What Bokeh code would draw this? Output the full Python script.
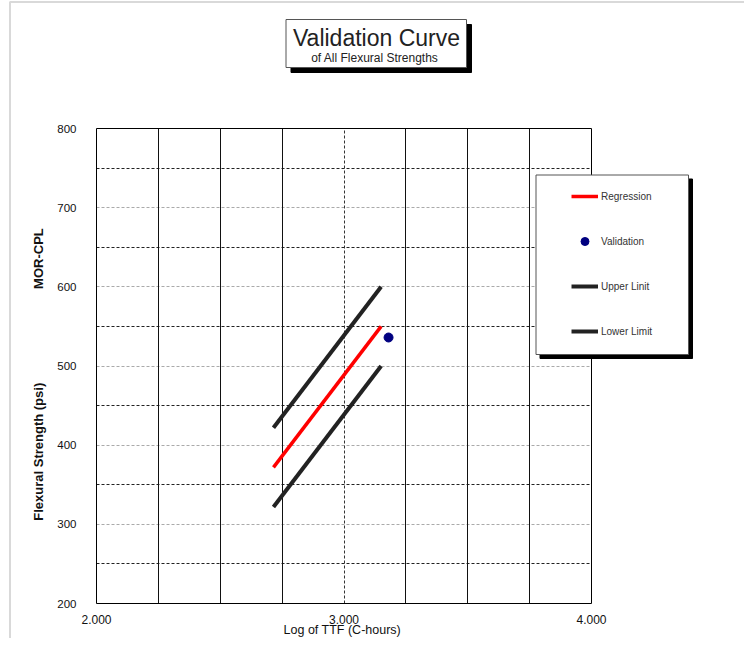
from bokeh.plotting import figure
from bokeh.models import (Range1d, FixedTicker, NumeralTickFormatter, Grid,
                          BoxAnnotation, Label, Legend, LegendItem)
from bokeh.embed import file_html
from bokeh.resources import INLINE

# ---- data ----
ttf_log = [2.715, 3.15]
regression = [372, 550]
upper_limit = [422, 600]
lower_limit = [322, 500]
val_x = [3.18]
val_y = [536]
x_ticks = [2.0, 3.0, 4.0]
y_ticks = [200, 300, 400, 500, 600, 700, 800]
x_grid_solid = [2.25, 2.5, 2.75, 3.25, 3.5, 3.75]
x_grid_dash = [3.0]
y_grid_major = [300, 400, 500, 600, 700]
y_grid_minor = [250, 350, 450, 550, 650, 750]
X_MIN, X_MAX = 2.0, 4.0
Y_MIN, Y_MAX = 200, 800

FONT = "Liberation Sans"
W, H = 744, 638
# pixel placement of the plotting area inside the canvas
PL, PR, PT, PB = 96, 591, 128, 603
YLABEL_CENTER_PX = 374

sx = (X_MAX - X_MIN) / (PR - PL)
sy = (Y_MAX - Y_MIN) / (PB - PT)
x_range = Range1d(X_MIN - PL * sx, X_MAX + (W - PR) * sx)
y_range = Range1d(Y_MIN - (H - PB) * sy, Y_MAX + PT * sy)

p = figure(width=W, height=H, output_backend="svg", toolbar_location=None,
           x_range=x_range, y_range=y_range, min_border=0)
p.background_fill_color = "white"
p.border_fill_color = "white"
p.outline_line_color = None
p.xgrid.visible = False
p.ygrid.visible = False

# axes drawn at the edges of the plotting area
p.xaxis.fixed_location = Y_MIN
p.yaxis.fixed_location = X_MIN
p.xaxis.bounds = (X_MIN, X_MAX)
label_center_val = Y_MAX - (YLABEL_CENTER_PX - PT) * sy
p.yaxis.bounds = (2 * label_center_val - Y_MAX, Y_MAX)
p.xaxis.ticker = FixedTicker(ticks=x_ticks)
p.xaxis.formatter = NumeralTickFormatter(format="0.000")
p.yaxis.ticker = FixedTicker(ticks=y_ticks)
for ax in (p.xaxis, p.yaxis):
    ax.axis_line_color = None
    ax.major_tick_line_color = None
    ax.minor_tick_line_color = None
    ax.major_label_text_font = FONT
    ax.major_label_text_color = "#111111"
p.xaxis.major_label_text_font_size = "12px"
p.yaxis.major_label_text_font_size = "11.5px"
p.xaxis.major_label_standoff = 5
p.yaxis.major_label_standoff = 14
p.yaxis.axis_label = "Flexural Strength (psi)" + "\u00a0" * 26 + "MOR-CPL"
p.yaxis.axis_label_text_font = FONT
p.yaxis.axis_label_text_font_style = "bold"
p.yaxis.axis_label_text_font_size = "13px"
p.yaxis.axis_label_text_color = "#111111"
p.yaxis.axis_label_standoff = 8

# grid lines, limited to the plotting area
HAS_CB = "cross_bounds" in Grid.properties()


def add_grid(dim, ticks, color, dash):
    if HAS_CB:
        g = Grid(dimension=dim, ticker=FixedTicker(ticks=ticks),
                 bounds=(X_MIN, X_MAX) if dim == 0 else (Y_MIN, Y_MAX),
                 cross_bounds=(Y_MIN, Y_MAX) if dim == 0 else (X_MIN, X_MAX),
                 grid_line_color=color, grid_line_dash=dash, grid_line_width=1)
        p.add_layout(g)
    else:
        if dim == 0:
            p.segment(x0=ticks, x1=ticks, y0=[Y_MIN] * len(ticks), y1=[Y_MAX] * len(ticks),
                      line_color=color, line_dash=dash, line_width=1)
        else:
            p.segment(y0=ticks, y1=ticks, x0=[X_MIN] * len(ticks), x1=[X_MAX] * len(ticks),
                      line_color=color, line_dash=dash, line_width=1)


add_grid(1, y_grid_major, "#aaaaaa", "3 2")
add_grid(1, y_grid_minor, "#222222", "3 2")
add_grid(0, x_grid_solid, "#111111", "solid")
add_grid(0, x_grid_dash, "#333333", "3 2")

# data
r_up = p.line(ttf_log, upper_limit, line_color="#222222", line_width=4)
r_lo = p.line(ttf_log, lower_limit, line_color="#222222", line_width=4)
r_reg = p.line(ttf_log, regression, line_color="#ff0000", line_width=3.5)
r_val = p.scatter(val_x, val_y, size=9, color="#000080")

# frame of the plotting area
p.add_layout(BoxAnnotation(left=X_MIN, right=X_MAX, bottom=Y_MIN, top=Y_MAX,
                           fill_alpha=0, line_color="black", line_width=1, line_alpha=1))


def sbox(left, right, top, bottom, **kw):
    # left/right/top/bottom given in page pixels from the top-left corner
    return BoxAnnotation(left=left, right=right, top=H - top, bottom=H - bottom,
                         left_units="screen", right_units="screen",
                         top_units="screen", bottom_units="screen", **kw)


# outer chart border
p.add_layout(sbox(9.5, 800, 1.5, 700, fill_alpha=0, line_color="#808080", line_width=2))

# title box with shadow
p.add_layout(sbox(290.5, 471, 24, 72, fill_color="black", fill_alpha=1,
                  line_color="black", line_alpha=1))
p.add_layout(sbox(285.5, 466, 19, 67, fill_color="white", fill_alpha=1,
                  line_color="#555555", line_width=1, line_alpha=1))
p.add_layout(Label(x=376, y=H - 37, x_units="screen", y_units="screen",
                   text="Validation Curve", text_font=FONT, text_font_size="23px",
                   text_align="center", text_baseline="middle", text_color="#222222"))
p.add_layout(Label(x=376, y=H - 57, x_units="screen", y_units="screen",
                   text="of All Flexural  Strengths", text_font=FONT, text_font_size="12px",
                   text_align="center", text_baseline="middle", text_color="#222222"))

# x axis title (overlapping the tick labels like the reference)
p.add_layout(Label(x=3.0, y=H - 629, x_units="data", y_units="screen",
                   text="Log of TTF  (C-hours)", text_font=FONT, text_font_size="12.5px",
                   text_align="center", text_baseline="middle", text_color="#111111"))

# legend box with shadow
p.add_layout(sbox(539.5, 692, 178.5, 358, fill_color="black", fill_alpha=1,
                  line_color="black", line_alpha=1))
p.add_layout(sbox(535.5, 688, 174.5, 354, fill_color="white", fill_alpha=1,
                  line_color="#555555", line_width=1, line_alpha=1))

legend = Legend(items=[LegendItem(label="Regression", renderers=[r_reg]),
                       LegendItem(label="Validation", renderers=[r_val]),
                       LegendItem(label="Upper Linit", renderers=[r_up]),
                       LegendItem(label="Lower Limit", renderers=[r_lo])],
                location=(571, H - 341), padding=0, margin=0, spacing=25,
                glyph_width=27, glyph_height=20, label_height=20, label_standoff=3,
                border_line_color=None, background_fill_alpha=0,
                label_text_font=FONT, label_text_font_size="10px",
                label_text_color="#333333")
p.add_layout(legend, "center")

open("out.html", "w").write(file_html(p, INLINE))
